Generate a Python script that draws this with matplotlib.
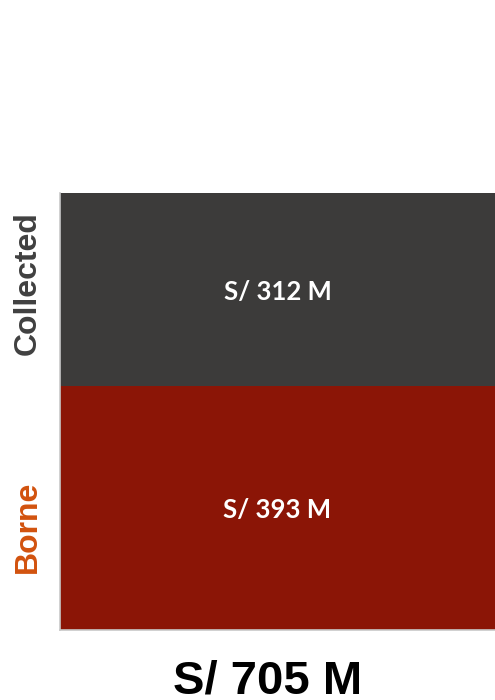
import matplotlib
matplotlib.use('Agg')
import matplotlib.pyplot as plt

# datos (millones de soles)
categorias = ['Borne', 'Collected']
valores = [393, 312]
colores = ['#8B1506', '#3C3B3A']
etiquetas = ['S/ 393 M', 'S/ 312 M']
total_txt = 'S/ 705 M'

fig = plt.figure(figsize=(4.95, 7.0), dpi=100)
ax = fig.add_axes([60/495, 70/700, 1 - 60/495, (630 - 193)/700])

base = 0
for cat, val, col, lab in zip(categorias, valores, colores, etiquetas):
    ax.bar(0, val, bottom=base, width=1.0, color=col, align='center')
    ax.text(0, base + val/2 - 3, lab, ha='center', va='center', color='white',
            fontsize=18.5, fontweight='bold', family='Lato')
    base += val

ax.set_xlim(-0.5, 0.5)
ax.set_ylim(0, sum(valores))
ax.set_xticks([])
ax.set_yticks([])
for s in ['top', 'right']:
    ax.spines[s].set_visible(False)
for s in ['left', 'bottom']:
    ax.spines[s].set_color('#c8c8c8')
    ax.spines[s].set_linewidth(1.2)

# etiquetas laterales
fig.text(28/495, 1 - 283/700, 'Collected', rotation=90, ha='center', va='center',
         color='#404040', fontsize=23, fontweight='bold', family='Liberation Sans')
fig.text(28/495, 1 - 527/700, 'Borne', rotation=90, ha='center', va='center',
         color='#D2520E', fontsize=23, fontweight='bold', family='Liberation Sans')

fig.text(268/495, 6/700, total_txt, ha='center', va='baseline',
         color='black', fontsize=34, fontweight='bold', family='Liberation Sans')

fig.savefig('out.png', dpi=100)
